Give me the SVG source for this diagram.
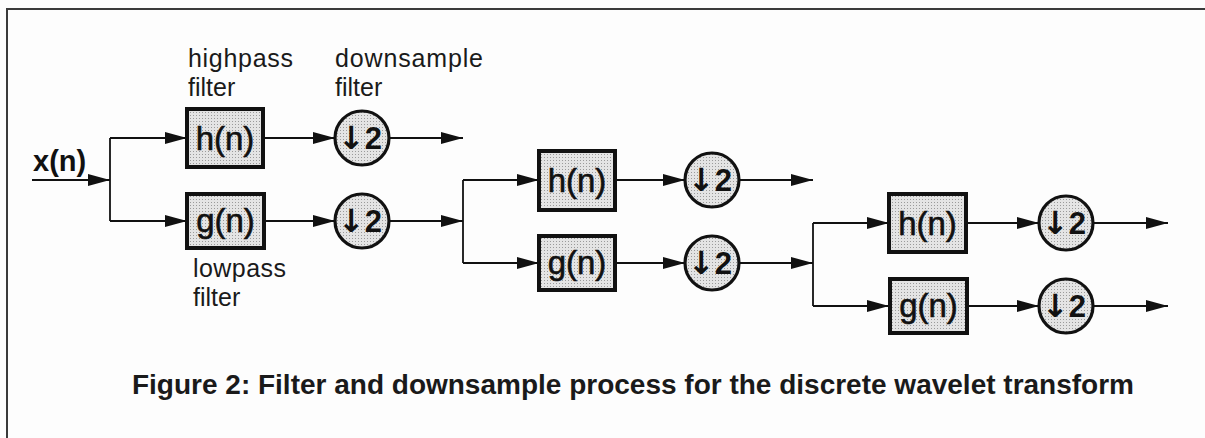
<svg xmlns="http://www.w3.org/2000/svg" width="1205" height="438" viewBox="0 0 1205 438">
  <defs>
    <pattern id="stipple" width="3" height="3" patternUnits="userSpaceOnUse">
      <rect width="3" height="3" fill="#e4e4e4"/>
      <rect x="1" y="1" width="1" height="1" fill="#9a9a9a"/>
    </pattern>
    <marker id="arrow" markerUnits="userSpaceOnUse" markerWidth="23" markerHeight="13" refX="22" refY="6.5" orient="auto">
      <path d="M0,0.5 L22,6.5 L0,12.5 Z" fill="#111"/>
    </marker>
  </defs>
  <style>
    .frame { stroke: #3a3a3a; stroke-width: 2; fill: none; }
    .box { fill: url(#stipple); stroke: #111; stroke-width: 4; }
    .ds { fill: url(#stipple); stroke: #111; stroke-width: 3.2; }
    .wire { stroke: #111; stroke-width: 1.8; fill: none; }
    .arr { marker-end: url(#arrow); }
    .fn { font-family: "Liberation Sans", Arial, sans-serif; font-size: 33px; fill: #111; stroke: #111; stroke-width: 0.6; text-anchor: middle; }
    .dn { font-family: "Liberation Sans", Arial, sans-serif; font-size: 31px; font-weight: bold; fill: #111; }
    .dn .ar { font-family: "DejaVu Sans", sans-serif; font-size: 32px; }
    .lbl { font-family: "Liberation Sans", Arial, sans-serif; font-size: 25px; fill: #1a1a1a; }
    .cap { font-family: "Liberation Sans", Arial, sans-serif; font-size: 28px; font-weight: bold; fill: #1a1a1a; text-anchor: middle; }
    .inp { font-family: "Liberation Sans", Arial, sans-serif; font-size: 29px; font-weight: bold; fill: #111; }
  </style>

  <rect width="1205" height="438" fill="#fdfdfd"/>
  <path class="frame" d="M7,438 V9 H1205"/>

  <!-- signal wiring -->
  <g id="connectors">
    <path class="wire arr" d="M32,180 H110"/>
    <path class="wire" d="M110,138 V221"/>
    <path class="wire arr" d="M110,138 H187"/>
    <path class="wire arr" d="M110,221 H187"/>
    <path class="wire arr" d="M263,138 H335"/>
    <path class="wire arr" d="M264,221 H335"/>
    <path class="wire arr" d="M389,138 H463"/>
    <path class="wire arr" d="M389,221 H463"/>

    <path class="wire" d="M463,180 V263"/>
    <path class="wire arr" d="M463,180 H539"/>
    <path class="wire arr" d="M463,263 H539"/>
    <path class="wire arr" d="M615,180 H685"/>
    <path class="wire arr" d="M615,263 H685"/>
    <path class="wire arr" d="M739,180 H813"/>
    <path class="wire arr" d="M739,263 H813"/>

    <path class="wire" d="M813,223 V306"/>
    <path class="wire arr" d="M813,223 H889"/>
    <path class="wire arr" d="M813,306 H889"/>
    <path class="wire arr" d="M966,223 H1039"/>
    <path class="wire arr" d="M967,306 H1039"/>
    <path class="wire arr" d="M1093,223 H1168"/>
    <path class="wire arr" d="M1093,306 H1168"/>
  </g>

  <!-- input -->
  <g id="input">
    <text class="inp" x="33" y="171">x(n)</text>
  </g>

  <!-- stage 1 -->
  <g id="h1">
    <rect class="box" x="187" y="109" width="76" height="58"/>
    <text class="fn" x="225" y="150">h(n)</text>
  </g>
  <g id="g1">
    <rect class="box" x="187" y="194" width="77" height="54"/>
    <text class="fn" x="225.5" y="232">g(n)</text>
  </g>
  <g id="d1h">
    <circle class="ds" cx="362" cy="138" r="27"/>
    <text class="dn" x="338" y="149"><tspan class="ar">↓</tspan>2</text>
  </g>
  <g id="d1g">
    <circle class="ds" cx="362" cy="221" r="27"/>
    <text class="dn" x="338" y="232"><tspan class="ar">↓</tspan>2</text>
  </g>

  <!-- stage 2 -->
  <g id="h2">
    <rect class="box" x="539" y="151" width="76" height="59"/>
    <text class="fn" x="577" y="192">h(n)</text>
  </g>
  <g id="g2">
    <rect class="box" x="539" y="236" width="76" height="54"/>
    <text class="fn" x="577" y="274">g(n)</text>
  </g>
  <g id="d2h">
    <circle class="ds" cx="712" cy="180" r="27"/>
    <text class="dn" x="688" y="191"><tspan class="ar">↓</tspan>2</text>
  </g>
  <g id="d2g">
    <circle class="ds" cx="712" cy="263" r="27"/>
    <text class="dn" x="688" y="274"><tspan class="ar">↓</tspan>2</text>
  </g>

  <!-- stage 3 -->
  <g id="h3">
    <rect class="box" x="889" y="194" width="77" height="58"/>
    <text class="fn" x="927.5" y="235">h(n)</text>
  </g>
  <g id="g3">
    <rect class="box" x="890" y="279" width="77" height="54"/>
    <text class="fn" x="928.5" y="317">g(n)</text>
  </g>
  <g id="d3h">
    <circle class="ds" cx="1066" cy="223" r="27"/>
    <text class="dn" x="1042" y="234"><tspan class="ar">↓</tspan>2</text>
  </g>
  <g id="d3g">
    <circle class="ds" cx="1066" cy="306" r="27"/>
    <text class="dn" x="1042" y="317"><tspan class="ar">↓</tspan>2</text>
  </g>

  <!-- annotations -->
  <g id="labels">
    <text class="lbl" x="188" y="67" textLength="105">highpass</text>
    <text class="lbl" x="188" y="96">filter</text>
    <text class="lbl" x="335" y="67" textLength="148">downsample</text>
    <text class="lbl" x="335" y="96">filter</text>
    <text class="lbl" x="193" y="277" textLength="93">lowpass</text>
    <text class="lbl" x="193" y="306">filter</text>
  </g>

  <text class="cap" x="633" y="394">Figure 2: Filter and downsample process for the discrete wavelet transform</text>
</svg>
